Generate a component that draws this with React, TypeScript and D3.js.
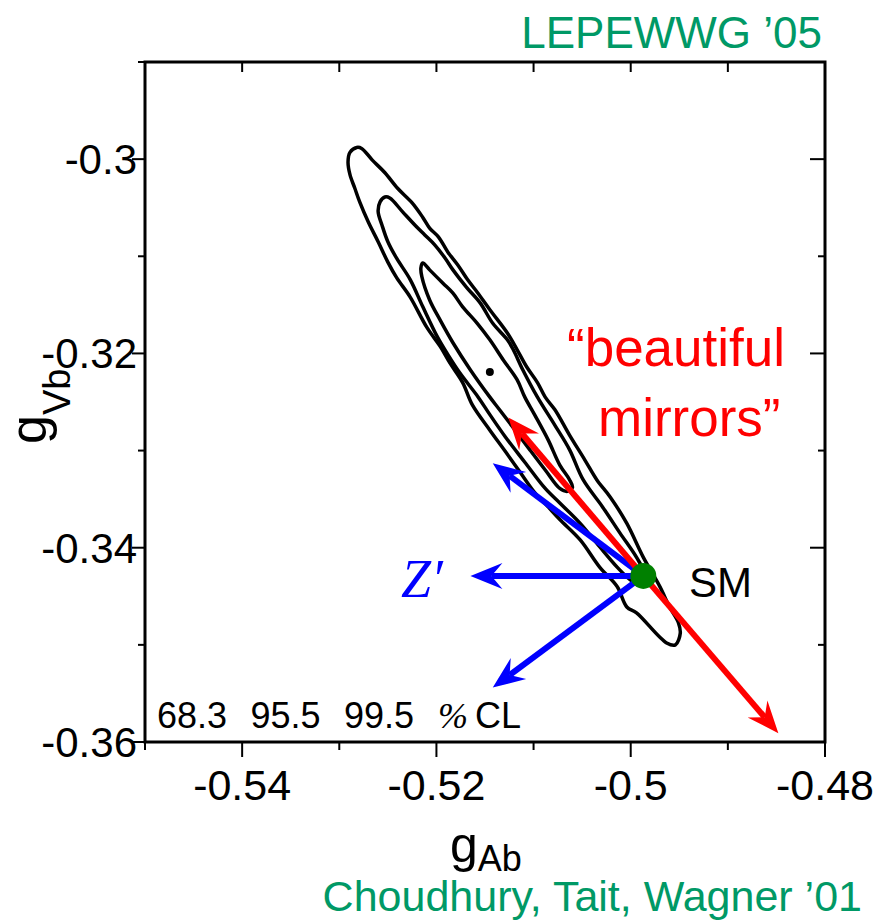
import React from 'react'
import * as d3 from 'd3'

// tick values and labels
const xMajor = [-0.54, -0.52, -0.5, -0.48]
const xMinor = [-0.55, -0.53, -0.51, -0.49]
const xLabels = ['-0.54', '-0.52', '-0.5', '-0.48']
const yMajor = [-0.3, -0.32, -0.34, -0.36]
const yMinor = [-0.29, -0.31, -0.33, -0.35]
const yLabels = ['-0.3', '-0.32', '-0.34', '-0.36']

// confidence contours [gAb, gVb]
const cl995 = [
  [-0.5282, -0.2988], [-0.5277, -0.2989], [-0.5266, -0.3001], [-0.5253, -0.3014], [-0.524, -0.303],
  [-0.5225, -0.3045], [-0.5214, -0.306], [-0.5207, -0.3071], [-0.5198, -0.308], [-0.5188, -0.3096],
  [-0.5178, -0.3109], [-0.5168, -0.3124], [-0.5158, -0.3137], [-0.5145, -0.3155], [-0.5127, -0.3179],
  [-0.5117, -0.3196], [-0.5107, -0.3214], [-0.5096, -0.323], [-0.5088, -0.3245], [-0.5078, -0.3258],
  [-0.5063, -0.3284], [-0.5047, -0.331], [-0.5035, -0.333], [-0.5021, -0.3348], [-0.5004, -0.3375],
  [-0.4987, -0.341], [-0.497, -0.344], [-0.496, -0.3461], [-0.4951, -0.3477], [-0.4949, -0.3488],
  [-0.4954, -0.35], [-0.4963, -0.3498], [-0.4994, -0.3467], [-0.5004, -0.3461], [-0.5014, -0.344],
  [-0.5032, -0.342], [-0.5052, -0.3392], [-0.5073, -0.3371], [-0.5085, -0.3358], [-0.5099, -0.3343],
  [-0.5114, -0.3322], [-0.5129, -0.3301], [-0.5145, -0.3279], [-0.5163, -0.3253], [-0.5173, -0.323],
  [-0.5186, -0.321], [-0.5196, -0.3193], [-0.521, -0.3173], [-0.5227, -0.3142], [-0.5241, -0.3122],
  [-0.525, -0.3106], [-0.526, -0.3085], [-0.527, -0.3065], [-0.5279, -0.3044], [-0.5284, -0.303],
  [-0.5289, -0.3016], [-0.5291, -0.3003], [-0.5289, -0.2993],
]
const cl955 = [
  [-0.5253, -0.3039], [-0.5248, -0.304], [-0.5235, -0.3054], [-0.5222, -0.3068], [-0.5212, -0.3078],
  [-0.5202, -0.3088], [-0.5191, -0.3102], [-0.5183, -0.3114], [-0.5169, -0.3132], [-0.5155, -0.3148],
  [-0.5142, -0.3169], [-0.5127, -0.3186], [-0.5121, -0.3196], [-0.5111, -0.3217], [-0.5096, -0.3245],
  [-0.5078, -0.3274], [-0.5063, -0.3299], [-0.5049, -0.333], [-0.5029, -0.3358], [-0.5011, -0.3385],
  [-0.4994, -0.341], [-0.4985, -0.3428], [-0.4987, -0.3438], [-0.4996, -0.3436], [-0.5004, -0.343],
  [-0.5014, -0.342], [-0.5032, -0.3399], [-0.5052, -0.3375], [-0.5073, -0.3354], [-0.5088, -0.3339],
  [-0.5109, -0.3312], [-0.5129, -0.3286], [-0.5145, -0.3263], [-0.5157, -0.3245], [-0.5176, -0.322],
  [-0.5189, -0.32], [-0.5199, -0.3183], [-0.5214, -0.3152], [-0.5227, -0.3124], [-0.5241, -0.3102],
  [-0.525, -0.3085], [-0.5256, -0.3068], [-0.526, -0.3054], [-0.5258, -0.3044],
]
const cl683 = [
  [-0.5214, -0.3107], [-0.5207, -0.3114], [-0.5193, -0.3128], [-0.5183, -0.3138], [-0.5173, -0.3152],
  [-0.5158, -0.3169], [-0.5145, -0.3186], [-0.5131, -0.3207], [-0.5117, -0.3227], [-0.5109, -0.3245],
  [-0.5099, -0.3263], [-0.5085, -0.3289], [-0.5073, -0.3315], [-0.5063, -0.333], [-0.506, -0.3338],
  [-0.5065, -0.3342], [-0.5073, -0.3339], [-0.5088, -0.332], [-0.5104, -0.3299], [-0.5119, -0.3279],
  [-0.5135, -0.3258], [-0.5145, -0.3245], [-0.5165, -0.3217], [-0.5183, -0.3189], [-0.5196, -0.3166],
  [-0.5207, -0.3145], [-0.5215, -0.3121], [-0.5216, -0.3112],
]
const contours = [cl995, cl955, cl683]

const bestFit = [-0.5145, -0.3219]
const smPoint = [-0.4987, -0.3429]

// arrow tips, all starting at the SM point
const redTips = [[-0.5126, -0.3266], [-0.4848, -0.3591]]
const blueTips = [[-0.5142, -0.3313], [-0.5165, -0.3429], [-0.5142, -0.3544]]

const clLabels = ['68.3', '95.5', '99.5']

const green = '#009966'
const sans = '"Liberation Sans", Arial, sans-serif'
const serif = '"Liberation Serif", serif'

function Arrow({ x1, y1, x2, y2, color }) {
  const dx = x2 - x1
  const dy = y2 - y1
  const l = Math.hypot(dx, dy)
  const ux = dx / l
  const uy = dy / l
  const px = -uy
  const py = ux
  const len = 32
  const w = 13
  const notch = 21
  const pts = [
    [x2, y2],
    [x2 - ux * len + px * w, y2 - uy * len + py * w],
    [x2 - ux * notch, y2 - uy * notch],
    [x2 - ux * len - px * w, y2 - uy * len - py * w],
  ]
  return (
    <g>
      <line x1={x1} y1={y1} x2={x2 - ux * notch} y2={y2 - uy * notch} stroke={color} strokeWidth={6} />
      <polygon points={pts.map((p) => p.join(',')).join(' ')} fill={color} />
    </g>
  )
}

export default function App() {
  const x = d3.scaleLinear().domain([-0.55, -0.48]).range([145, 825])
  const y = d3.scaleLinear().domain([-0.36, -0.29]).range([742, 62])
  const line = d3
    .line()
    .x((d) => x(d[0]))
    .y((d) => y(d[1]))
    .curve(d3.curveCatmullRomClosed.alpha(0.5))

  const [x0, x1] = x.range()
  const [y0, y1] = y.range()
  const sx = x(smPoint[0])
  const sy = y(smPoint[1])

  return (
    <svg width={878} height={922} style={{ position: 'absolute', left: 0, top: 0, background: '#fff' }}>
      {/* frame */}
      <rect x={x0} y={y1} width={x1 - x0} height={y0 - y1} fill="none" stroke="#000" strokeWidth={3} />

      {/* bottom ticks (outward) + top ticks (inward) */}
      {xMajor.map((v) => (
        <g key={'xM' + v}>
          <line x1={x(v)} x2={x(v)} y1={y0} y2={y0 + 15} stroke="#000" strokeWidth={2} />
          <line x1={x(v)} x2={x(v)} y1={y1} y2={y1 + 10} stroke="#000" strokeWidth={2} />
        </g>
      ))}
      {xMinor.map((v) => (
        <g key={'xm' + v}>
          <line x1={x(v)} x2={x(v)} y1={y0} y2={y0 + 8} stroke="#000" strokeWidth={2} />
          <line x1={x(v)} x2={x(v)} y1={y1} y2={y1 + 10} stroke="#000" strokeWidth={2} />
        </g>
      ))}
      {xMajor.map((v, i) => (
        <text key={'xl' + v} x={x(v)} y={800} textAnchor="middle" fontFamily={sans} fontSize={43}>
          {xLabels[i]}
        </text>
      ))}

      {/* left ticks (outward) + right ticks (inward) */}
      {yMajor.map((v) => (
        <g key={'yM' + v}>
          <line x1={x0 - 13} x2={x0} y1={y(v)} y2={y(v)} stroke="#000" strokeWidth={2} />
          <line x1={x1 - 15} x2={x1} y1={y(v)} y2={y(v)} stroke="#000" strokeWidth={2} />
        </g>
      ))}
      {yMinor.map((v) => (
        <g key={'ym' + v}>
          <line x1={x0 - 7} x2={x0} y1={y(v)} y2={y(v)} stroke="#000" strokeWidth={2} />
          <line x1={x1 - 7} x2={x1} y1={y(v)} y2={y(v)} stroke="#000" strokeWidth={2} />
        </g>
      ))}
      {yMajor.map((v, i) => (
        <text key={'yl' + v} x={137} y={y(v) + 15} textAnchor="end" fontFamily={sans} fontSize={42}>
          {yLabels[i]}
        </text>
      ))}

      {/* axis titles */}
      <text x={450} y={862} fontFamily={sans} fontSize={50}>
        g<tspan dy={9} fontSize={36}>Ab</tspan>
      </text>
      <text transform="translate(46,444) rotate(-90)" fontFamily={sans} fontSize={52}>
        g<tspan dy={24} fontSize={38}>Vb</tspan>
      </text>

      {/* contours */}
      {contours.map((c, i) => (
        <path key={'c' + i} d={line(c)} fill="none" stroke="#000" strokeWidth={3.5} />
      ))}
      <circle cx={x(bestFit[0])} cy={y(bestFit[1])} r={4} fill="#000" />

      {/* arrows */}
      {blueTips.map((t, i) => (
        <Arrow key={'b' + i} x1={sx} y1={sy} x2={x(t[0])} y2={y(t[1])} color="#0000ff" />
      ))}
      {redTips.map((t, i) => (
        <Arrow key={'r' + i} x1={sx} y1={sy} x2={x(t[0])} y2={y(t[1])} color="#ff0000" />
      ))}
      <circle cx={sx} cy={sy} r={13} fill="#008000" />

      {/* annotations */}
      <text x={689} y={597} fontFamily={sans} fontSize={42}>SM</text>
      <text x={401} y={597} fontFamily={serif} fontStyle="italic" fontSize={54} fill="#0000ff">
        Z′
      </text>
      <text x={567} y={366} fontFamily={sans} fontSize={53} fill="#ff0000">“beautiful</text>
      <text x={598} y={436} fontFamily={sans} fontSize={53} fill="#ff0000">mirrors”</text>

      <text y={728} fontFamily={sans} fontSize={36}>
        {clLabels.map((l, i) => (
          <tspan key={l} x={157 + i * 93.5}>{l}</tspan>
        ))}
      </text>
      <text x={438} y={728} fontFamily={serif} fontStyle="italic" fontSize={36}>%</text>
      <text x={475} y={728} fontFamily={sans} fontSize={36}>CL</text>

      <text x={822} y={48} textAnchor="end" fontFamily={sans} fontSize={44} fill={green}>LEPEWWG ’05</text>
      <text x={862} y={911} textAnchor="end" fontFamily={sans} fontSize={43} fill={green}>
        Choudhury, Tait, Wagner ’01
      </text>
    </svg>
  )
}
